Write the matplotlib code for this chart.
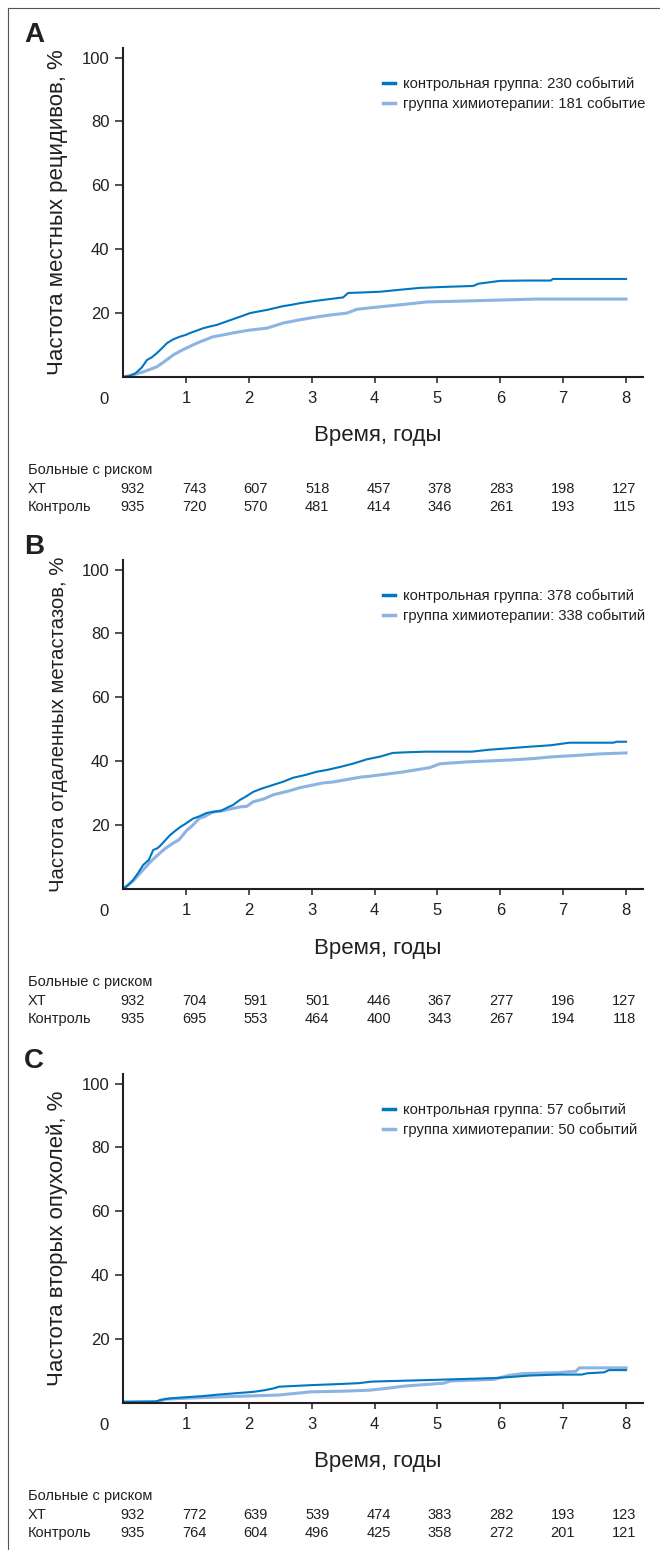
import matplotlib
matplotlib.use("Agg")
import matplotlib.pyplot as plt
import matplotlib.transforms as mtransforms
import numpy as np

plt.rcParams['font.family'] = ['Liberation Sans', 'DejaVu Sans']

DARK = '#0077c0'
LIGHT = '#8db3e2'
INK = '#231f20'

# panel A - local recurrence
a_ctrl_t = [0, 0.1, 0.2, 0.3, 0.38, 0.46, 0.54, 0.62, 0.7, 0.8, 0.9, 1.0, 1.07, 1.17, 1.28, 1.38, 1.49,
            1.62, 1.75, 1.88, 2.02, 2.15, 2.29, 2.42, 2.55, 2.68, 2.81, 3.05, 3.29, 3.45, 3.5, 3.58, 3.85,
            4.09, 4.4, 4.72, 5.1, 5.57, 5.65, 6.0, 6.4, 6.8, 6.84, 8.0]
a_ctrl_v = [0, 0.3, 1.2, 3.0, 5.3, 6.2, 7.5, 9.0, 10.6, 11.8, 12.6, 13.2, 13.8, 14.5, 15.3, 15.8, 16.3,
            17.2, 18.1, 19.0, 20.0, 20.5, 21.0, 21.6, 22.2, 22.6, 23.1, 23.8, 24.4, 24.8, 24.9, 26.3, 26.5,
            26.7, 27.3, 27.9, 28.2, 28.5, 29.2, 30.1, 30.2, 30.2, 30.7, 30.7]
a_chemo_t = [0, 0.15, 0.32, 0.43, 0.54, 0.67, 0.8, 0.9, 1.0, 1.11, 1.22, 1.33, 1.43, 1.6, 1.75, 2.02,
             2.29, 2.42, 2.55, 2.68, 2.81, 3.05, 3.29, 3.56, 3.72, 4.0, 4.35, 4.6, 4.83, 5.47, 6.0,
             6.58, 8.0]
a_chemo_v = [0, 0.6, 1.6, 2.4, 3.2, 5.0, 6.9, 8.0, 9.0, 10.0, 11.0, 11.8, 12.6, 13.2, 13.8, 14.7,
             15.3, 16.1, 16.9, 17.4, 17.9, 18.7, 19.4, 20.0, 21.2, 21.8, 22.5, 23.0, 23.5, 23.8, 24.1,
             24.4, 24.4]

# panel B - distant metastases
b_ctrl_t = [0, 0.08, 0.16, 0.24, 0.32, 0.41, 0.48, 0.55, 0.59, 0.67, 0.75, 0.83, 0.91, 1.0, 1.11,
            1.22, 1.33, 1.45, 1.56, 1.65, 1.75, 1.86, 1.96, 2.07, 2.2, 2.39, 2.55, 2.7, 2.9, 3.08,
            3.25, 3.45, 3.65, 3.88, 4.1, 4.29, 4.5, 4.83, 5.55, 5.82, 6.1, 6.43, 6.8, 7.1, 7.8, 7.85, 8.0]
b_ctrl_v = [0, 1.2, 2.8, 5.0, 7.5, 9.1, 12.2, 12.8, 13.5, 15.2, 16.9, 18.2, 19.4, 20.5, 22.0,
            22.8, 23.8, 24.2, 24.5, 25.4, 26.3, 27.9, 29.0, 30.4, 31.4, 32.6, 33.6, 34.8, 35.7, 36.7,
            37.3, 38.2, 39.2, 40.6, 41.5, 42.6, 42.8, 43.0, 43.0, 43.6, 44.0, 44.5, 45.0, 45.8, 45.8, 46.1, 46.1]
b_chemo_t = [0, 0.16, 0.32, 0.45, 0.59, 0.68, 0.8, 0.89, 1.02, 1.08, 1.22, 1.29, 1.43, 1.56, 1.86,
             1.97, 2.07, 2.24, 2.39, 2.64, 2.81, 3.18, 3.34, 3.8, 3.88, 4.4, 4.47, 4.88, 5.04, 5.48,
             6.17, 6.5, 6.84, 7.2, 7.58, 8.0]
b_chemo_v = [0, 2.5, 6.0, 8.8, 11.3, 12.8, 14.4, 15.4, 18.5, 19.4, 22.2, 22.6, 24.1, 24.4, 25.7,
             25.9, 27.3, 28.2, 29.5, 30.7, 31.7, 33.2, 33.5, 35.1, 35.2, 36.5, 36.7, 38.0, 39.2, 39.8,
             40.4, 40.8, 41.4, 41.8, 42.3, 42.6]

# panel C - second tumours
c_ctrl_t = [0, 0.52, 0.6, 0.78, 1.0, 1.29, 1.5, 1.75, 2.08, 2.25, 2.4, 2.48, 3.0, 3.4, 3.74, 3.96, 4.88,
            5.9, 6.13, 6.47, 6.93, 7.3, 7.38, 7.65, 7.73, 8.0]
c_ctrl_v = [0.4, 0.5, 1.0, 1.5, 1.8, 2.2, 2.6, 3.0, 3.5, 4.0, 4.6, 5.1, 5.6, 5.9, 6.2, 6.7, 7.2,
            7.8, 8.1, 8.6, 8.9, 8.9, 9.3, 9.6, 10.3, 10.3]
c_chemo_t = [0, 0.54, 0.67, 1.0, 1.51, 2.0, 2.48, 2.99, 3.5, 3.91, 4.2, 4.48, 5.1, 5.21, 5.9, 6.13,
             6.36, 6.93, 7.1, 7.2, 7.26, 8.0]
c_chemo_v = [0.2, 0.3, 1.2, 1.5, 1.9, 2.2, 2.5, 3.5, 3.7, 4.0, 4.6, 5.3, 6.2, 6.9, 7.4, 8.6,
             9.2, 9.5, 9.8, 9.9, 11.0, 11.0]

panel_letters = ['A', 'B', 'C']
ylabels = ['Частота местных рецидивов, %',
           'Частота отдаленных метастазов, %',
           'Частота вторых опухолей, %']
ylabel_sizes = [16, 14.6, 16]
ctrl_labels = ['контрольная группа: 230 событий',
               'контрольная группа: 378 событий',
               'контрольная группа: 57 событий']
chemo_labels = ['группа химиотерапии: 181 событие',
                'группа химиотерапии: 338 событий',
                'группа химиотерапии: 50 событий']

risk_years = [0, 1, 2, 3, 4, 5, 6, 7, 8]
risk_chemo = [[932, 743, 607, 518, 457, 378, 283, 198, 127],
              [932, 704, 591, 501, 446, 367, 277, 196, 127],
              [932, 772, 639, 539, 474, 383, 282, 193, 123]]
risk_ctrl = [[935, 720, 570, 481, 414, 346, 261, 193, 115],
             [935, 695, 553, 464, 400, 343, 267, 194, 118],
             [935, 764, 604, 496, 425, 358, 272, 201, 121]]

curves = [(a_ctrl_t, a_ctrl_v, a_chemo_t, a_chemo_v),
          (b_ctrl_t, b_ctrl_v, b_chemo_t, b_chemo_v),
          (c_ctrl_t, c_ctrl_v, c_chemo_t, c_chemo_v)]

W, H = 660, 1550
fig = plt.figure(figsize=(W / 100, H / 100), dpi=100)

# outer frame (left and top edges)
fig.add_artist(plt.Line2D([7.5 / W, 7.5 / W], [0, 1 - 8 / H], color='#555555', lw=0.8))
fig.add_artist(plt.Line2D([7.5 / W, 1], [1 - 8 / H, 1 - 8 / H], color='#555555', lw=0.8))

ax_left, ax_right = 123, 643
axis_bottoms = [377, 889, 1403]
ax_h = 329

for i in range(3):
    bottom = axis_bottoms[i]
    ax = fig.add_axes([ax_left / W, 1 - bottom / H, (ax_right - ax_left) / W, ax_h / H])
    ct, cv, ht, hv = curves[i]
    l2, = ax.plot(ht, hv, color=LIGHT, lw=2.2, solid_joinstyle='miter', label=chemo_labels[i])
    l1, = ax.plot(ct, cv, color=DARK, lw=1.5, solid_joinstyle='miter', label=ctrl_labels[i])

    ax.set_xlim(0, 8.27)
    ax.set_ylim(0, 103)
    ax.set_xticks(range(1, 9))
    ax.set_yticks([20, 40, 60, 80, 100])
    for s in ['top', 'right']:
        ax.spines[s].set_visible(False)
    for s in ['left', 'bottom']:
        ax.spines[s].set_linewidth(1.5)
        ax.spines[s].set_color(INK)
    ax.tick_params(axis='x', direction='out', length=4.3, width=1.1, pad=5.8,
                   labelsize=12, colors=INK)
    ax.tick_params(axis='y', direction='out', length=5.8, width=1.1, pad=4,
                   labelsize=12, colors=INK)

    blend = mtransforms.blended_transform_factory(ax.transData, ax.transAxes)
    ax.text(-0.3, -22 / ax_h, '0', transform=blend, ha='center', va='center',
            fontsize=12, color=INK)

    ax.set_ylabel(ylabels[i], fontsize=ylabel_sizes[i], color=INK)
    ax.yaxis.set_label_coords(-0.105, 0.5)

    ax.text(0.49, -59 / ax_h, 'Время, годы', transform=ax.transAxes, ha='center',
            va='center', fontsize=16, color=INK)

    ax.legend([l1, l2], [ctrl_labels[i], chemo_labels[i]], loc='upper left',
              bbox_to_anchor=(0.5, 0.912), frameon=False, fontsize=10.6,
              handlelength=0.8, handletextpad=0.55, labelspacing=0.38,
              borderpad=0, borderaxespad=0, labelcolor=INK)
    for line in ax.get_legend().get_lines():
        line.set_linewidth(2.5)

    fig.text(34 / W, 1 - (bottom - 342) / H, panel_letters[i], ha='center', va='center',
             fontsize=20, fontweight='bold', color=INK)

    # numbers at risk
    col_x = np.linspace(0.16, 7.97, len(risk_years))
    rows = [('Больные с риском', None, 93), ('ХТ', risk_chemo[i], 112),
            ('Контроль', risk_ctrl[i], 130)]
    for name, vals, d in rows:
        fig.text(28 / W, 1 - (bottom + d) / H, name, ha='left', va='center',
                 fontsize=10.5, color=INK)
        if vals is not None:
            for x, v in zip(col_x, vals):
                ax.text(x, -d / ax_h, str(v), transform=blend, ha='center', va='center',
                        fontsize=10.5, color=INK)

fig.savefig('out.png', dpi=100)
